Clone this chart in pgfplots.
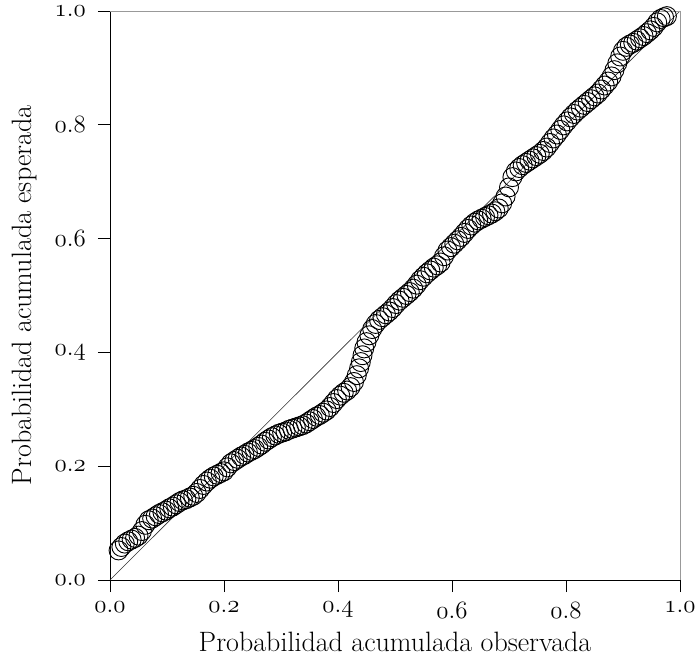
\documentclass[border=0pt]{standalone}
\usepackage{pgfplots}
\pgfplotsset{compat=1.18}
\pgfplotstableread{
x y
0.015 0.052
0.020 0.058
0.026 0.064
0.032 0.068
0.038 0.071
0.044 0.074
0.050 0.078
0.056 0.086
0.062 0.097
0.068 0.105
0.074 0.108
0.080 0.112
0.086 0.116
0.092 0.119
0.098 0.122
0.104 0.126
0.110 0.129
0.116 0.133
0.122 0.137
0.128 0.140
0.134 0.142
0.140 0.145
0.146 0.148
0.152 0.153
0.158 0.160
0.164 0.167
0.170 0.173
0.176 0.178
0.182 0.182
0.188 0.185
0.194 0.188
0.200 0.191
0.206 0.198
0.212 0.205
0.218 0.209
0.224 0.213
0.230 0.217
0.236 0.220
0.242 0.224
0.248 0.227
0.254 0.230
0.260 0.234
0.266 0.238
0.272 0.243
0.278 0.247
0.284 0.251
0.290 0.254
0.296 0.257
0.302 0.259
0.308 0.261
0.314 0.264
0.320 0.266
0.326 0.268
0.332 0.270
0.338 0.272
0.344 0.275
0.350 0.279
0.356 0.283
0.362 0.287
0.368 0.290
0.374 0.294
0.380 0.298
0.386 0.304
0.392 0.311
0.398 0.318
0.404 0.324
0.410 0.329
0.416 0.333
0.422 0.339
0.428 0.348
0.433 0.360
0.437 0.372
0.440 0.383
0.443 0.395
0.446 0.407
0.450 0.418
0.455 0.430
0.460 0.441
0.466 0.450
0.472 0.457
0.478 0.462
0.484 0.467
0.490 0.472
0.496 0.478
0.502 0.485
0.508 0.491
0.514 0.496
0.520 0.501
0.526 0.506
0.532 0.512
0.538 0.519
0.544 0.527
0.550 0.533
0.556 0.539
0.562 0.544
0.568 0.549
0.574 0.553
0.580 0.558
0.586 0.569
0.592 0.579
0.598 0.585
0.604 0.591
0.610 0.597
0.616 0.603
0.622 0.610
0.628 0.617
0.634 0.623
0.640 0.628
0.646 0.632
0.652 0.635
0.658 0.638
0.664 0.641
0.670 0.644
0.676 0.648
0.682 0.653
0.688 0.662
0.694 0.674
0.700 0.690
0.706 0.708
0.712 0.718
0.718 0.724
0.724 0.729
0.730 0.733
0.736 0.737
0.742 0.741
0.748 0.745
0.754 0.749
0.760 0.754
0.766 0.760
0.772 0.768
0.778 0.776
0.784 0.783
0.790 0.791
0.796 0.799
0.802 0.806
0.808 0.813
0.814 0.819
0.820 0.825
0.826 0.830
0.832 0.835
0.838 0.840
0.844 0.845
0.850 0.850
0.856 0.855
0.862 0.862
0.868 0.869
0.874 0.876
0.880 0.885
0.885 0.896
0.890 0.908
0.895 0.920
0.900 0.930
0.906 0.937
0.912 0.941
0.918 0.944
0.924 0.948
0.930 0.952
0.936 0.956
0.942 0.961
0.948 0.966
0.954 0.972
0.960 0.980
0.966 0.986
0.972 0.989
0.977 0.991
}\pptable
\begin{document}
\begin{tikzpicture}
\begin{axis}[
  anchor=south west, at={(0,0)},
  scale only axis, width=570pt, height=569pt,
  xmin=0, xmax=1, ymin=0, ymax=1,
  xtick={0,0.2,0.4,0.6,0.8,1}, ytick={0,0.2,0.4,0.6,0.8,1},
  xticklabels={$\mathnormal{0.0}$,$\mathnormal{0.2}$,$\mathnormal{0.4}$,$\mathnormal{0.6}$,$\mathnormal{0.8}$,$\mathnormal{1.0}$},
  yticklabels={$\mathnormal{0.0}$,$\mathnormal{0.2}$,$\mathnormal{0.4}$,$\mathnormal{0.6}$,$\mathnormal{0.8}$,$\mathnormal{1.0}$},
  tick align=outside, xtick pos=bottom, ytick pos=left,
  major tick length=12pt,
  tick style={black, line width=0.9pt},
  axis line style={line width=0.8pt},
  ticklabel style={font=\Huge, inner sep=0pt},
  xticklabel style={anchor=north, yshift=-10pt},
  yticklabel style={anchor=east, xshift=-12pt},
  label style={font=\fontsize{28}{32}\selectfont},
  xlabel={Probabilidad acumulada observada},
  ylabel={Probabilidad acumulada esperada},
  xlabel style={at={(axis description cs:0.5,-0.1265)}, anchor=base},
  ylabel style={at={(axis description cs:-0.137,0.5)}, anchor=base},
  clip=false,
]
\addplot[black!80, line width=0.6pt] coordinates {(0,0) (1,1)};
\addplot[only marks, mark=o, mark size=9.5pt, mark options={black, line width=0.9pt}] table {\pptable};
\draw[gray!80, line width=0.9pt] (rel axis cs:0,1) -- (rel axis cs:1,1) -- (rel axis cs:1,0);
\end{axis}
\pgfresetboundingbox
\path[use as bounding box] (-110pt,-78pt) rectangle (585pt,580pt);
\end{tikzpicture}
\end{document}
